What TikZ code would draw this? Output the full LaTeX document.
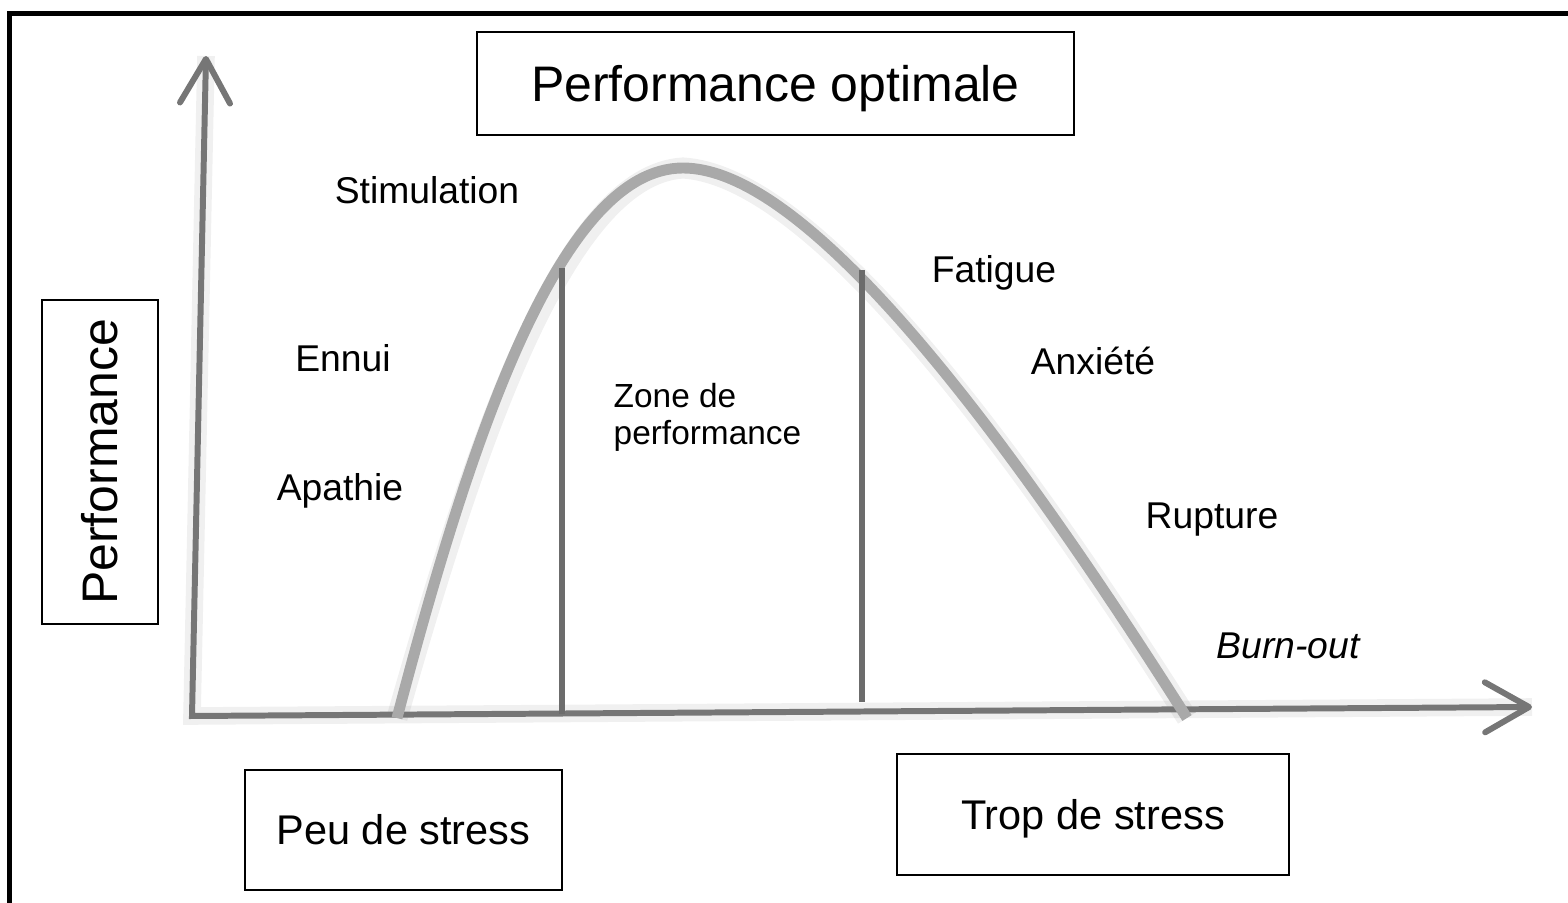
\documentclass[tikz,border=0pt]{standalone}
\usepackage{fontspec}
\setmainfont{Liberation Sans}
\usetikzlibrary{arrows.meta}
\definecolor{curvegray}{HTML}{A9A9A9}
\definecolor{axisgray}{HTML}{767676}
\definecolor{zonegray}{HTML}{6C6C6C}

\begin{document}
\begin{tikzpicture}
  [x=0.01cm,y=-0.01cm,
   every node/.style={inner sep=0pt,font=\fontsize{10.6}{12}\selectfont},
   titlebox/.style={draw,line width=0.6pt,font=\fontsize{14.2}{16}\selectfont,text height=10.2pt,text depth=0pt},
   stressbox/.style={draw,line width=0.6pt,font=\fontsize{11.8}{14}\selectfont,text height=8.45pt,text depth=0pt},
   axis/.style={draw=axisgray,line width=1.7pt,{Straight Barb[length=4.4mm,width=5mm,round]}-{Straight Barb[length=4.4mm,width=5mm,round]}},
   curve/.style={draw=curvegray,line width=3.1pt},
   zoneline/.style={draw=zonegray,line width=1.7pt},
   shadow/.style={draw=black,opacity=.06,line width=5pt}]
  \useasboundingbox (0,0) rectangle (1568,903);

  % frame
  \draw[line width=1.4pt] (9.5,903) -- (9.5,13.5) -- (1568,13.5);

  \coordinate (ytop) at (206,56);
  \coordinate (O) at (192,716);
  \coordinate (xend) at (1532,707);
  \coordinate (c0) at (397,718);
  \coordinate (peak) at (683,168);
  \coordinate (c1) at (1187,718);

  % soft shadows
  \begin{scope}[shift={(4,7)}]
    \draw[shadow] (ytop) -- (O) -- (xend);
    \draw[shadow,line width=6pt] (c0) .. controls (470,440) and (560,168) .. (peak)
      .. controls (790,168) and (960,360) .. (c1);
  \end{scope}

  \draw[axis] (ytop) -- (O) -- (xend);
  \draw[curve] (c0) .. controls (470,440) and (560,168) .. (peak)
    .. controls (790,168) and (960,360) .. (c1);
  \foreach \x/\top/\bot in {562/268/714,862/270/702}
    \draw[zoneline] (\x,\top) -- (\x,\bot);

  % boxes
  \node[titlebox,minimum width=5.97cm,minimum height=1.03cm] (optimale) at (775.5,83.5) {Performance optimale};
  \node[titlebox,rotate=90,minimum width=3.24cm,minimum height=1.16cm] (perf) at (100,462) {Performance};
  \node[stressbox,minimum width=3.17cm,minimum height=1.2cm] (peu) at (403.5,830) {Peu de stress};
  \node[stressbox,minimum width=3.92cm,minimum height=1.21cm] (trop) at (1093,814.5) {Trop de stress};

  % labels
  \node[anchor=base] (stim) at (427,203) {Stimulation};
  \node[anchor=base] (ennui) at (343,371) {Ennui};
  \node[anchor=base] (apathie) at (340,500) {Apathie};
  \node[anchor=base] (fatigue) at (994,282) {Fatigue};
  \node[anchor=base] (anxiete) at (1093,374) {Anxiété};
  \node[anchor=base] (rupture) at (1212,528) {Rupture};
  \node[anchor=base,font=\fontsize{10.6}{12}\selectfont\itshape] (burnout) at (1288,658) {Burn-out};
  \node[anchor=north west,align=left,font=\fontsize{9.5}{10.5}\selectfont] (zone) at (613,383) {Zone de\\performance};
\end{tikzpicture}
\end{document}
